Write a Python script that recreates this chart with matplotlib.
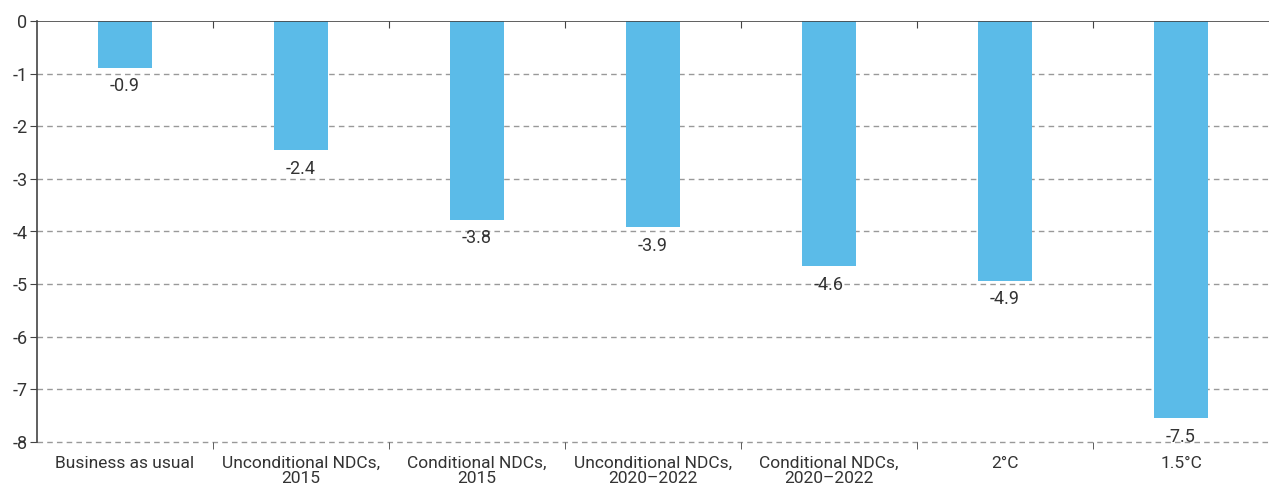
import numpy as np
import matplotlib.pyplot as plt

plt.rcParams['font.family'] = ['Roboto', 'DejaVu Sans']

categories = ['Business as usual', 'Unconditional NDCs,\n2015', 'Conditional NDCs,\n2015',
              'Unconditional NDCs,\n2020\u20132022', 'Conditional NDCs,\n2020\u20132022',
              '2\u00b0C', '1.5\u00b0C']
values = [-0.89, -2.46, -3.78, -3.92, -4.66, -4.94, -7.55]
labels = ['-0.9', '-2.4', '-3.8', '-3.9', '-4.6', '-4.9', '-7.5']
yticks = [0, -1, -2, -3, -4, -5, -6, -7, -8]

txt = '#333333'
fig = plt.figure(figsize=(12.69, 4.94), dpi=100)
ax = fig.add_axes([37 / 1269, 52 / 494, 1 - 37 / 1269, 421 / 494])

x = np.arange(len(categories))
ax.bar(x, values, width=0.31, color='#5bbbe8', zorder=3)
for xi, v, lab in zip(x, values, labels):
    ax.text(xi, v - 0.18, lab, ha='center', va='top', fontsize=13, color=txt)

ax.set_xlim(-0.5, len(categories) - 0.5)
ax.set_ylim(-8, 0)
ax.set_yticks(yticks)
ax.set_yticklabels([str(t) for t in yticks], fontsize=13, color=txt)
for t in yticks[1:]:
    ax.axhline(t, color='#999999', lw=1, ls=(0, (4, 3)), zorder=1, clip_on=False)
ax.axhline(0, color='#444444', lw=1.2, zorder=4)

bounds = np.arange(0.5, len(categories) - 0.5, 1)
ax.set_xticks(x)
ax.set_xticklabels(categories, fontsize=12.5, color=txt, linespacing=1.0)
ax.tick_params(axis='x', which='major', length=0, pad=10)
ax.set_xticks(bounds, minor=True)
ax.tick_params(axis='x', which='minor', direction='out', length=5, color='#444444')
top = ax.secondary_xaxis('top')
top.set_xticks(bounds)
top.set_xticklabels([])
top.tick_params(direction='in', length=5, color='#444444')
top.spines['top'].set_visible(False)
ax.tick_params(axis='y', length=5, color='#444444', pad=2)

for s in ['right', 'bottom', 'top']:
    ax.spines[s].set_visible(False)
ax.spines['left'].set_color('#444444')
ax.spines['left'].set_linewidth(1.2)

fig.savefig('out.png', dpi=100)
